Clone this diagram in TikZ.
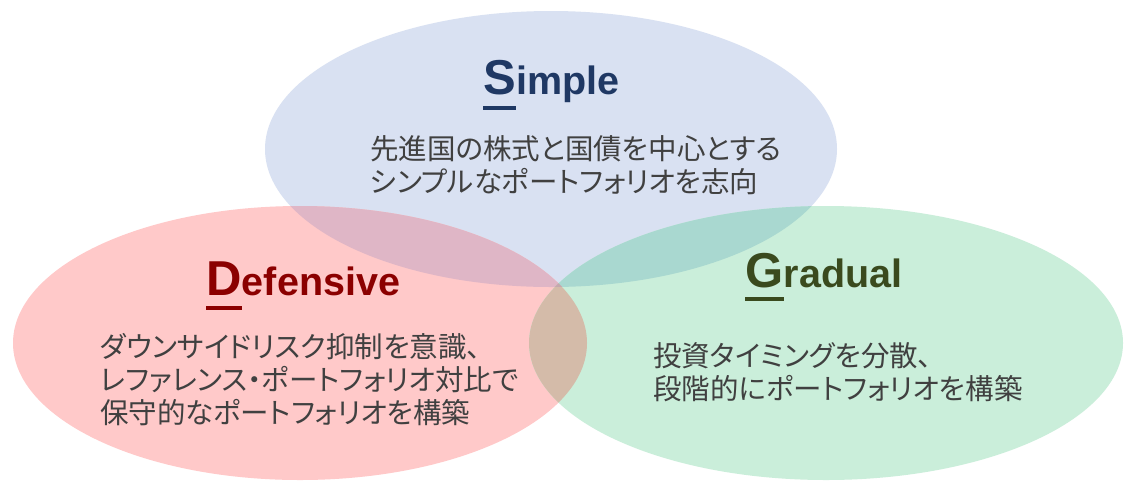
\documentclass[tikz,border=0pt]{standalone}
\usepackage{fontspec}
\setmainfont{Liberation Sans}
\newfontfamily\jpfont[RawFeature=+palt]{Noto Sans CJK JP}

\definecolor{sfill}{HTML}{D9E1F2}
\definecolor{dfill}{HTML}{FFC9C9}
\definecolor{gfill}{HTML}{CAEEDA}
\definecolor{sdfill}{HTML}{DFB6C6}
\definecolor{sgfill}{HTML}{A9D8D0}
\definecolor{dgfill}{HTML}{D4BBA9}
\definecolor{sdgfill}{HTML}{C4A8AE}
\definecolor{scol}{HTML}{1F3864}
\definecolor{dcol}{HTML}{8B0000}
\definecolor{gcol}{HTML}{3A4A1E}
\definecolor{bodycol}{HTML}{404040}

\begin{document}
\begin{tikzpicture}[x=1pt,y=-1pt,
  bigletter/.style={inner sep=0pt, anchor=base west, font=\fontsize{49}{49}\selectfont\bfseries},
  restword/.style={inner sep=0pt, anchor=base west, font=\fontsize{39.5}{39.5}\selectfont\bfseries},
  bodyline/.style={inner sep=0pt, anchor=base west, text=bodycol, font=\jpfont\fontsize{28.5}{28.5}\selectfont},
  uline/.style={line width=4pt}
]
\useasboundingbox (0,0) rectangle (1124,480);
\fill[white] (0,0) rectangle (1124,480);

% ellipses
\def\sEll{(551,149) ellipse [x radius=286, y radius=138]}
\def\dEll{(300,343) ellipse [x radius=287, y radius=137]}
\def\gEll{(826,343) ellipse [x radius=297, y radius=137]}
\fill[sfill] \sEll;
\fill[dfill] \dEll;
\fill[gfill] \gEll;
\begin{scope}\clip \sEll; \fill[sdfill] \dEll; \end{scope}
\begin{scope}\clip \sEll; \fill[sgfill] \gEll; \end{scope}
\begin{scope}\clip \dEll; \fill[dgfill] \gEll; \end{scope}
\begin{scope}\clip \sEll; \clip \dEll; \fill[sdgfill] \gEll; \end{scope}

% Simple
\node[bigletter, text=scol] (sS) at (483,94) {S};
\node[restword, text=scol] (simple) at (sS.base east) {imple};
\draw[uline, scol] ([yshift=-14pt]sS.base west) -- ([yshift=-14pt]sS.base east);
\node[bodyline] (s1) at (370,159) {先進国の株式と国債を中心とする};
\node[bodyline] (s2) at (370,192) {シンプルなポートフォリオを志向};

% Defensive
\node[bigletter, text=dcol] (dD) at (206,295) {D};
\node[restword, text=dcol] (defensive) at (dD.base east) {efensive};
\draw[uline, dcol] ([yshift=-13pt]dD.base west) -- ([yshift=-13pt]dD.base east);
\node[bodyline] (d1) at (100,357) {ダウンサイドリスク抑制を意識、};
\node[bodyline] (d2) at (100,390) {レファレンス・ポートフォリオ対比で};
\node[bodyline] (d3) at (100,423) {保守的なポートフォリオを構築};

% Gradual
\node[bigletter, text=gcol] (gG) at (745,287) {G};
\node[restword, text=gcol] (gradual) at (gG.base east) {radual};
\draw[uline, gcol] ([yshift=-12pt]gG.base west) -- ([yshift=-12pt]gG.base east);
\node[bodyline] (g1) at (653,366) {投資タイミングを分散、};
\node[bodyline] (g2) at (653,399) {段階的にポートフォリオを構築};
\end{tikzpicture}
\end{document}
